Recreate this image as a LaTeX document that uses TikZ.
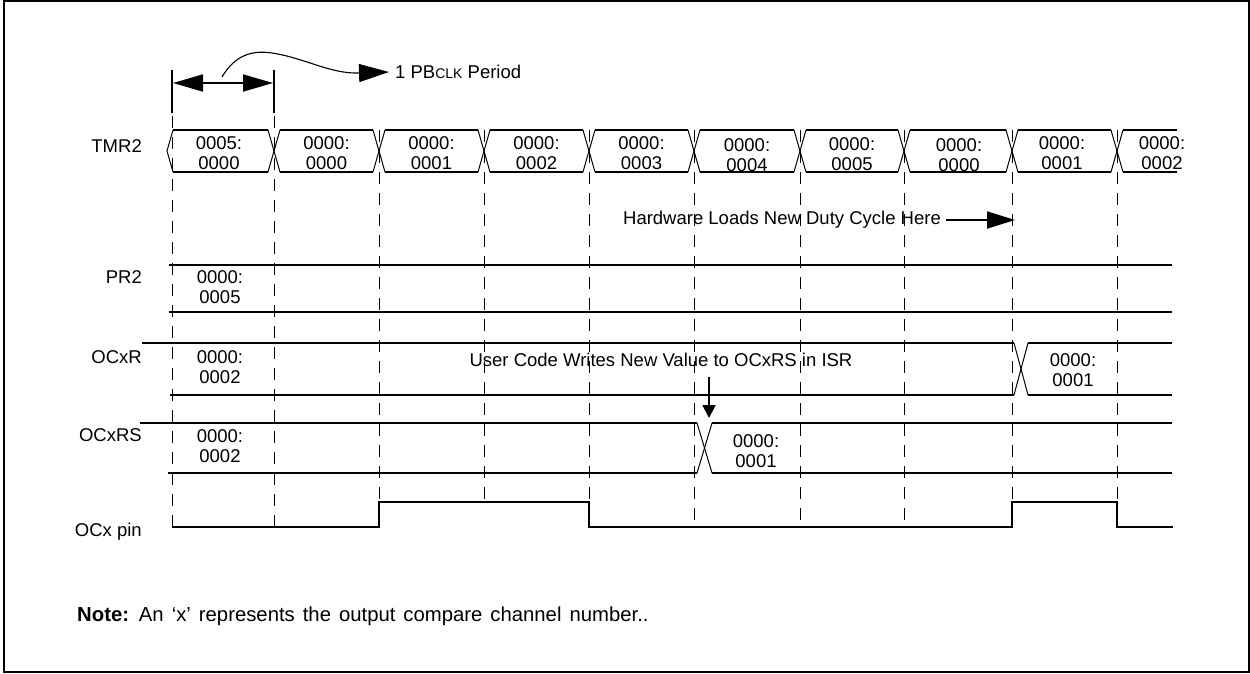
\documentclass[tikz,border=0pt]{standalone}
\usepackage{fontspec}
\setmainfont{Liberation Sans}
\usetikzlibrary{arrows.meta}
\begin{document}
\begin{tikzpicture}[x=1pt,y=-1pt,
  sig/.style={line width=1.8pt},
  pin/.style={line width=2.4pt},
  slope/.style={line width=1pt},
  gridline/.style={line width=0.9pt, dash pattern=on 12pt off 9pt},
  lbl/.style={font=\fontsize{18.5}{20}\selectfont, anchor=base east, inner sep=0pt},
  val/.style={font=\fontsize{18.5}{20}\selectfont, align=center, inner sep=0pt},
  txt/.style={font=\fontsize{18.5}{20}\selectfont, inner sep=0pt},
  notetxt/.style={font=\fontsize{20.3}{22}\selectfont, inner sep=0pt},
  bigtip/.style={-{Triangle[length=28pt,width=17pt]}},
]
\useasboundingbox (0,0) rectangle (1250,673);
\draw[line width=2pt] (4,1) rectangle (1249,672);

% period markers
\draw[sig] (172,70) -- (172,113);
\draw[sig] (274,70) -- (274,113);
\coordinate (pa) at (173,83);
\coordinate (pb) at (273,83);
\draw[sig, {Triangle[length=30pt,width=17pt]}-{Triangle[length=30pt,width=17pt]}] (pa) -- (pb);
\node[txt, anchor=west] (pbclk) at (395,72) {1 PB{\fontsize{14}{14}\selectfont CLK} Period};
\coordinate (cs) at (222,77);
\draw[line width=1.1pt, -{Triangle[length=30pt,width=18pt]}] (cs) .. controls (235,55) and (252,50) .. (272,53)
  .. controls (305,58) and (330,74) .. ([xshift=-6pt]pbclk.west);

% vertical dashed grid
\foreach \x in {172,274} \draw[gridline] (\x,116) -- (\x,527);
\foreach \x in {694,800,904} \draw[gridline] (\x,130) -- (\x,527);
\foreach \x in {379,484,589,1012,1117} \draw[gridline] (\x,130) -- (\x,502);

% TMR2 bus
\node[lbl] (ltmr) at (142,152.5) {TMR2};
\draw[slope] (173,130) -- (167,151) -- (173,172);
\foreach \a/\b in {173/268, 280/373, 385/478, 490/583, 595/688, 700/794, 806/898, 910/1006, 1018/1111} {
  \draw[sig] (\a,130) -- (\b,130);
  \draw[sig] (\a,172) -- (\b,172);
}
\draw[sig] (1123,130) -- (1177,130);
\draw[sig] (1123,172) -- (1177,172);
\foreach \c in {274,379,484,589,694,800,904,1012,1117} {
  \draw[slope] (\c-6,130) -- (\c+6,172);
  \draw[slope] (\c-6,172) -- (\c+6,130);
}
\node[val] (t1) at (219,153) {0005:\\0000};
\node[val] (t2) at (326.5,153) {0000:\\0000};
\node[val] (t3) at (431.5,153) {0000:\\0001};
\node[val] (t4) at (536.5,153) {0000:\\0002};
\node[val] (t5) at (641.5,153) {0000:\\0003};
\node[val] (t6) at (747,155) {0000:\\0004};
\node[val] (t7) at (852,154) {0000:\\0005};
\node[val] (t8) at (959,155) {0000:\\0000};
\node[val] (t9) at (1062,153) {0000:\\0001};
\node[val] (t10) at (1162,153) {0000:\\0002};

% hardware loads
\node[txt] (hw) at (782,220) {Hardware Loads New Duty Cycle Here};
\coordinate (hwend) at (1015,220);
\draw[sig, bigtip] ([xshift=5pt]hw.east) -- (hwend);

% PR2
\node[lbl] (lpr2) at (142,283.5) {PR2};
\draw[sig] (169,265) -- (1172,265);
\draw[sig] (169,312) -- (1172,312);
\node[val] (vpr2) at (220,287) {0000:\\0005};

% OCxR
\node[lbl] (locr) at (142,363.5) {OCxR};
\draw[sig] (142,343) -- (1014,343);
\draw[sig] (170,395) -- (1014,395);
\draw[slope] (1014,343) -- (1028,395);
\draw[slope] (1014,395) -- (1028,343);
\draw[sig] (1028,343) -- (1172,343);
\draw[sig] (1028,395) -- (1172,395);
\node[val] (vocr1) at (220,367) {0000:\\0002};
\node[val] (vocr2) at (1073,370) {0000:\\0001};
\node[txt] (uc) at (661,360) {User Code Writes New Value to OCxRS in ISR};

% OCxRS
\node[lbl] (locrs) at (142,441.5) {OCxRS};
\draw[sig] (140,423) -- (697,423);
\draw[sig] (168,473) -- (697,473);
\draw[slope] (697,423) -- (712,473);
\draw[slope] (697,473) -- (712,423);
\draw[sig] (712,423) -- (1172,423);
\draw[sig] (712,473) -- (1172,473);
\node[val] (vocrs1) at (220,446) {0000:\\0002};
\node[val] (vocrs2) at (756,451) {0000:\\0001};
\coordinate (ucs) at (709,377);
\coordinate (uce) at (709,418);
\draw[sig, -{Triangle[length=13pt,width=13pt]}] (ucs) -- (uce);

% OCx pin
\node[lbl] (lpin) at (142,536.5) {OCx pin};
\draw[pin] (172,527) -- (379,527) -- (379,502) -- (589,502) -- (589,527) -- (1012,527)
  -- (1012,502) -- (1117,502) -- (1117,527) -- (1173,527);

% note
\node[notetxt, anchor=base west] (note) at (77,621) {\spaceskip=8pt\relax\textbf{Note:} An ‘x’ represents the output compare channel number..};
\end{tikzpicture}
\end{document}
